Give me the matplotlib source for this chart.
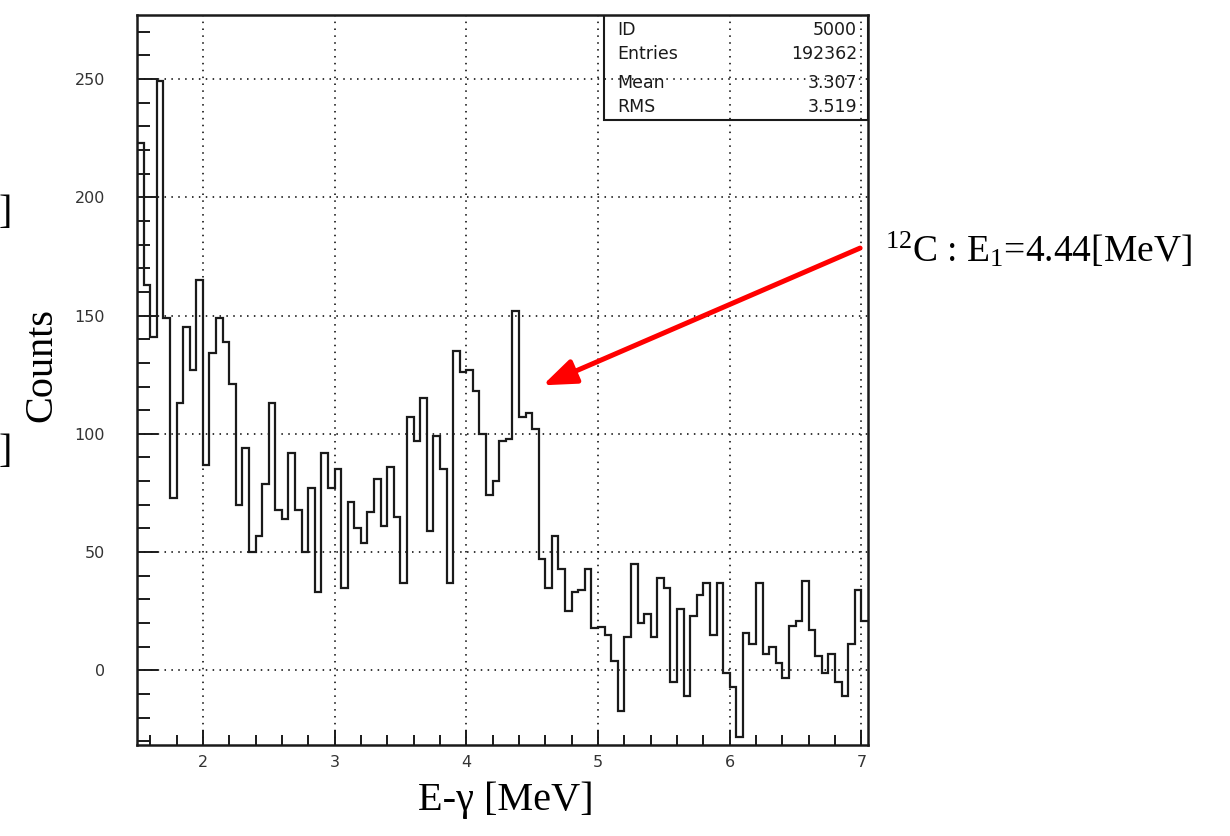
import numpy as np
import matplotlib
matplotlib.use("Agg")
import matplotlib.pyplot as plt
from matplotlib.patches import Rectangle

# histogram contents, 0.05 MeV bins starting at 1.50 MeV
bin_start = 1.5
bin_width = 0.05
counts = [
    223, 163, 141, 249, 149, 73, 113, 145, 127, 165,
    87, 134, 149, 139, 121, 70, 94, 50, 57, 79,
    113, 68, 64, 92, 68, 50, 77, 33, 92, 77,
    85, 35, 71, 60, 54, 67, 81, 61, 86, 65,
    37, 107, 97, 115, 59, 99, 85, 37, 135, 126,
    127, 118, 100, 74, 80, 97, 98, 152, 107, 109,
    102, 47, 35, 57, 43, 25, 33, 34, 43, 18,
    18.5, 15, 4, -17, 14, 45, 20, 24, 14, 39,
    35, -5, 26, -11, 23, 32, 37, 15, 37, -1,
    -7, -28, 16, 11, 37, 7, 10, 3, -3, 19,
    21, 38, 17, 6, -1, 7, -5, -11, 11, 34,
    21,
]

x_ticks = [2, 3, 4, 5, 6, 7]
y_ticks = [0, 50, 100, 150, 200, 250]

stats_names = ["ID", "Entries", "Mean", "RMS"]
stats_values = ["5000", "192362", "3.307", "3.519"]

plt.rcParams["mathtext.fontset"] = "custom"
plt.rcParams["mathtext.rm"] = "Liberation Serif"
plt.rcParams["mathtext.it"] = "Liberation Serif:italic"

fig = plt.figure(figsize=(12.3, 8.36), dpi=100)
ax = fig.add_axes([137 / 1230, 1 - 745 / 836, 731 / 1230, 730 / 836])

edges = bin_start + bin_width * np.arange(len(counts) + 1)
ax.stairs(counts, edges, baseline=None, color="#1a1a1a", linewidth=1.6, zorder=3)

ax.set_xlim(1.5, 7.05)
ax.set_ylim(-31.5, 277)

ax.set_xticks(x_ticks)
ax.set_yticks(y_ticks)
ax.set_xticks(np.arange(1.6, 7.05, 0.2), minor=True)
ax.set_yticks(np.arange(-30, 277, 10), minor=True)

ax.tick_params(axis="both", which="both", direction="in", colors="#1a1a1a",
               labelcolor="#333333", labelsize=11.5)
ax.tick_params(axis="x", which="major", length=11, width=1.4, pad=7)
ax.tick_params(axis="x", which="minor", length=7, width=1.4)
ax.tick_params(axis="y", which="major", length=15, width=1.4, pad=23)
ax.tick_params(axis="y", which="minor", length=9, width=1.4)
for lab in ax.get_xticklabels() + ax.get_yticklabels():
    lab.set_family("DejaVu Sans")

for spine in ax.spines.values():
    spine.set_linewidth(1.8)
    spine.set_color("#1a1a1a")

ax.grid(True, which="major", color="black", linestyle=(0, (1, 3.5)), linewidth=1.1)

# statistics box in the top right corner
box_left = (604 - 137) / 731
box_bottom = (745 - 120) / 730
ax.add_patch(Rectangle((box_left, box_bottom), 1 - box_left, 1 - box_bottom,
                       transform=ax.transAxes, fill=False, edgecolor="#1a1a1a",
                       linewidth=1.5, zorder=5))
row_y = [30, 54, 83, 107]
for name, value, py in zip(stats_names, stats_values, row_y):
    yy = (745 - py) / 730
    ax.text((617 - 137) / 731, yy, name, transform=ax.transAxes, ha="left",
            va="center", fontsize=12.5, family="DejaVu Sans", color="#1a1a1a")
    ax.text((857 - 137) / 731, yy, value, transform=ax.transAxes, ha="right",
            va="center", fontsize=12.5, family="DejaVu Sans", color="#1a1a1a")

# arrow pointing at the 4.44 MeV line
ax.annotate("", xy=(4.58, 120.5), xytext=(6.99, 178.5),
            arrowprops=dict(arrowstyle="-|>,head_length=1.0,head_width=0.38",
                            color="#ff0000", lw=3.6, mutation_scale=20,
                            shrinkA=0, shrinkB=0), zorder=6)

serif = ["Liberation Serif", "DejaVu Serif"]
fig.text(0.7195, 1 - 262 / 836, r"$^{\mathrm{12}}$C : E$_{\mathrm{1}}$=4.44[MeV]",
         ha="left", va="baseline", fontsize=27, family=serif)
fig.text(0.411, 1 - 800 / 836, "E-γ [MeV]", ha="center", va="center",
         fontsize=29, family=serif)
fig.text(42 / 1230, 1 - 365 / 836, "Counts", ha="center", va="center",
         rotation=90, fontsize=29, family=serif)
# cut-off brackets at the left edge of the slide
fig.text(12 / 1230, 1 - 213 / 836, "]", ha="right", va="center", fontsize=29, family=serif)
fig.text(12 / 1230, 1 - 452 / 836, "]", ha="right", va="center", fontsize=29, family=serif)

fig.savefig("out.png", dpi=100)
